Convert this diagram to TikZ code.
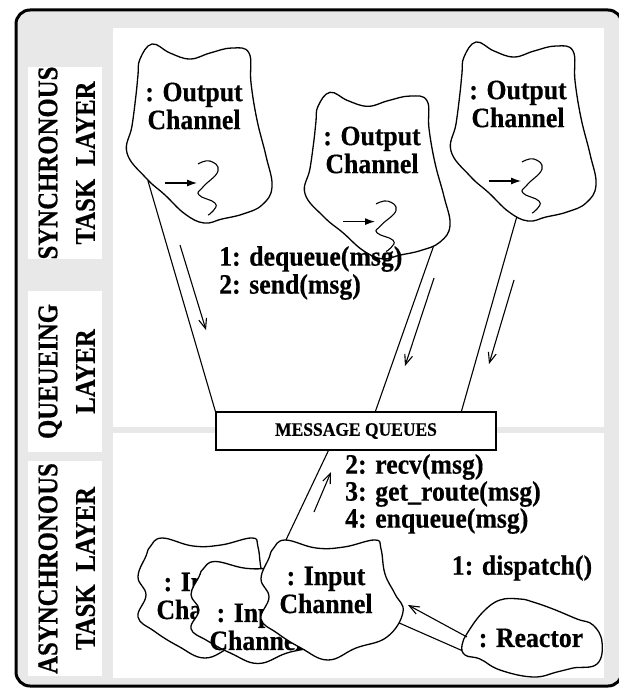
\documentclass[tikz,border=0pt]{standalone}
\usepackage{fontspec}
\setmainfont{Liberation Serif}
\newfontfamily\labelfont[FakeStretch=0.92, BoldFeatures={FakeBold=0.5}]{Liberation Serif}
\newfontfamily\layerfont[FakeStretch=0.87, BoldFeatures={FakeBold=0.5}]{Liberation Serif}
\usetikzlibrary{arrows.meta}

\definecolor{panel}{gray}{0.91}
\pgfdeclarelayer{bg}
\pgfdeclarelayer{wires}
\pgfsetlayers{bg,wires,main}

\tikzset{
  textdrop/.initial=0,
  outline/.style={line width=1.3pt, fill=white},
  wire/.style={line width=1.1pt},
  flow/.style={line width=1.1pt, -{Straight Barb[length=10pt,width=8pt]}},
  tinyarrow/.style={line width=1.1pt, -{Latex[length=10pt,width=7pt]}},
  cloudtext/.style={font=\labelfont\bfseries\fontsize{28}{28}\selectfont, align=center, inner sep=0pt},
  call/.style={font=\labelfont\bfseries\fontsize{28}{28}\selectfont, anchor=west, inner sep=0pt},
  layerstrip/.style={fill=white, inner sep=0pt, minimum width=74pt},
  layertext/.style={font=\layerfont\bfseries\fontsize{28.5}{37.5}\selectfont, inner sep=0pt, rotate=90},
  queuebox/.style={draw, line width=1.2pt, fill=white, inner sep=0pt,
    minimum width=280pt, minimum height=38pt,
    font=\labelfont\bfseries\fontsize{19}{19}\selectfont},
  % an output channel: a blob with a small thread symbol inside
  outcloud/.pic={
    \draw[outline] plot[smooth cycle, tension=0.7] coordinates {
      (-54,-47) (-42,-62) (-24,-53) (-4,-47) (16,-53) (38,-58) (55,-53)
      (57,-23) (63,14) (72,50) (78,81) (68,99) (49,108) (28,113) (10,117)
      (-9,108) (-29,89) (-48,72) (-67,47) (-62,20) (-58,-11) (-56,-31)};
    \node[cloudtext] (-txt) at (0,0) {: Output\\Channel};
    \draw[line width=1.1pt] plot[smooth, tension=0.8] coordinates {
      (4,58) (16,55) (24,65) (9,81) (5,89) (21,97) (19,105) (14,109)};
    \draw[tinyarrow] (-29,77) -- (3,77);
    \coordinate (-sw) at (-46,75);
    \coordinate (-se) at (62,102);
    \coordinate (-s) at (-1,112);
  },
  % an input channel blob
  incloud/.pic={
    \draw[outline] plot[smooth cycle, tension=0.7] coordinates {
      (-53,-41) (-41,-50) (-10,-42) (18,-43) (49,-50) (55,-41) (59,-16)
      (69,4) (77,22) (61,47) (30,58) (2,70) (-25,58) (-49,43) (-65,29)
      (-57,7) (-65,-11) (-57,-32)};
    \node[cloudtext] (-txt) at (0,\pgfkeysvalueof{/tikz/textdrop}) {: Input\\Channel};
    \coordinate (-n) at (-41,-48);
    \coordinate (-e) at (71,32);
  }
}

\begin{document}
\begin{tikzpicture}[x=1pt, y=-1pt]
\useasboundingbox (0,0) rectangle (618,690);

% frame, work areas and layer strips
\begin{pgfonlayer}{bg}
  \draw[line width=3pt, rounded corners=14pt, fill=panel] (16,10) rectangle (622,686);
  \fill[white] (113,28) rectangle (604,427);
  \fill[white] (113,433) rectangle (604,678);
\end{pgfonlayer}

\node[layerstrip, minimum height=192pt] (syncstrip) at (65,163) {};
\node[layerstrip, minimum height=161pt] (queuestrip) at (65,371.5) {};
\node[layerstrip, minimum height=215pt] (asyncstrip) at (65,568.5) {};

\node[layertext] (synclbl) at (68.5,163)
  {\begin{tabular}{@{}c@{}}SYNCHRONOUS\\TASK\hspace{0.45em}LAYER\end{tabular}};
\node[layertext] (queuelbl) at (68.5,371.5)
  {\begin{tabular}{@{}c@{}}QUEUEING\\LAYER\end{tabular}};
\node[layertext] (asynclbl) at (68.5,568.5)
  {\begin{tabular}{@{}c@{}}ASYNCHRONOUS\\TASK\hspace{0.45em}LAYER\end{tabular}};

% message queues
\node[queuebox] (mq) at (356,431) {MESSAGE QUEUES};
\path (mq.north west) ++(160,0) coordinate (qin2);
\path (mq.north west) ++(246,0) coordinate (qin3);
\path (mq.south west) ++(113,0) coordinate (qout);

% channel objects
\pic (oc1) at (194,106) {outcloud};
\pic[yscale=0.93] (oc2) at (372,150) {outcloud};
\pic (oc3) at (518,104) {outcloud};

\pic[textdrop=8] (ic1) at (203,588) {incloud};
\pic[yscale=0.85, textdrop=27] (ic2) at (256,604) {incloud};
\pic (ic3) at (326,590) {incloud};

\draw[outline] plot[smooth cycle, tension=0.7] coordinates {
  (520,599) (500,600) (483,612) (468,632) (462,645) (465,655) (480,659)
  (500,670) (533,677) (557,672) (573,668) (597,664) (602,642) (593,625)
  (577,619) (553,609) (533,602)};
\node[cloudtext] (reactor) at (531,638) {: Reactor};
\coordinate (reactorw) at (463,651);

% links between objects
\begin{pgfonlayer}{wires}
  \draw[wire] (oc1-sw) -- (mq.north west);
  \draw[wire] (oc2-se) -- (qin2);
  \draw[wire] (oc3-s) -- (qin3);
  \draw[wire] (qout) -- (ic3-n);
  \draw[wire] (ic3-e) -- (reactorw);
\end{pgfonlayer}

% message flow arrows
\coordinate (f1s) at (180,245); \coordinate (f1e) at (206,330);
\coordinate (f2s) at (434,278); \coordinate (f2e) at (405,366);
\coordinate (f3s) at (514,280); \coordinate (f3e) at (489,364);
\coordinate (f4s) at (314,512); \coordinate (f4e) at (331,472);
\coordinate (f5s) at (467,637); \coordinate (f5e) at (408,605);
\draw[flow] (f1s) -- (f1e);
\draw[flow] (f2s) -- (f2e);
\draw[flow] (f3s) -- (f3e);
\draw[flow] (f4s) -- (f4e);
\draw[flow] (f5s) -- (f5e);

% operation labels
\node[call] (deq) at (219,259) {1: dequeue(msg)};
\node[call] (snd) at (219,287) {2: send(msg)};
\node[call] (rcv) at (345,467) {2: recv(msg)};
\node[call] (rte) at (345,494) {3: get\_route(msg)};
\node[call] (enq) at (345,521) {4: enqueue(msg)};
\node[cloudtext] (dsp) at (522,568) {1: dispatch()};

\end{tikzpicture}
\end{document}
